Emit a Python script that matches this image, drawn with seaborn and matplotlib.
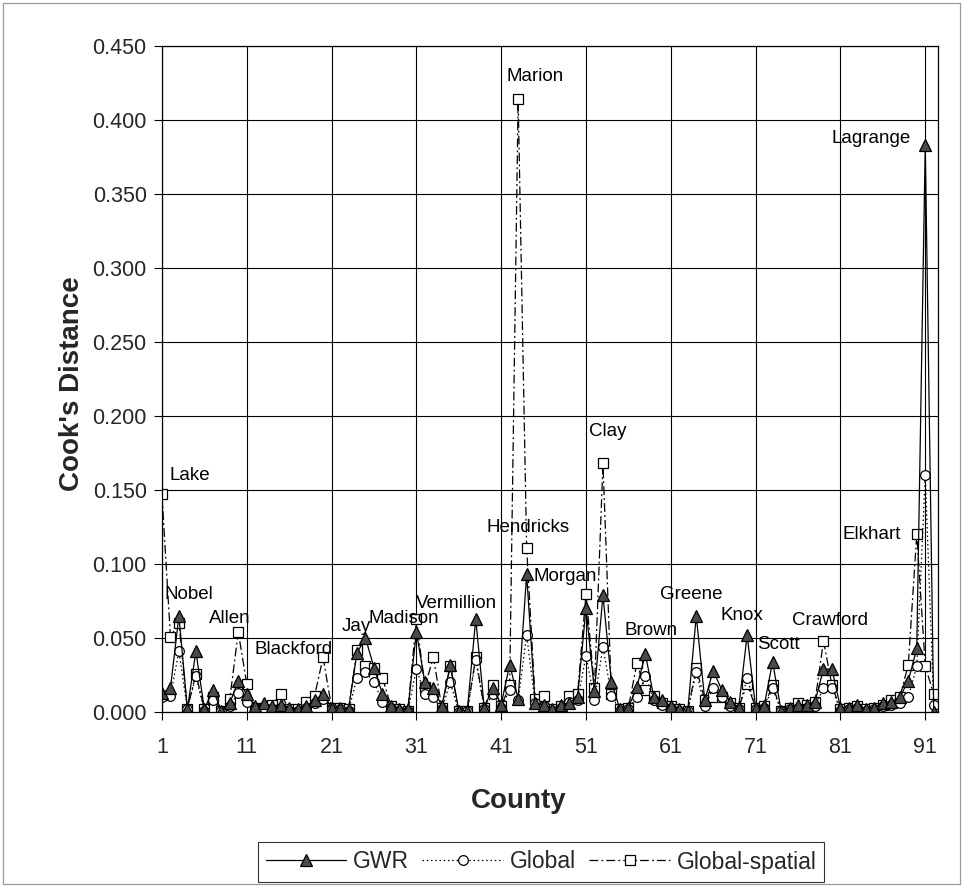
import numpy as np
import pandas as pd
import matplotlib
matplotlib.use("Agg")
import matplotlib.pyplot as plt
import seaborn as sns

# ---------------- data ----------------
county = list(range(1, 93))
gwr = [0.013, 0.016, 0.065, 0.002, 0.041, 0.002, 0.015, 0.001, 0.006, 0.021,
       0.012, 0.004, 0.006, 0.004, 0.005, 0.003, 0.002, 0.004, 0.008, 0.012,
       0.003, 0.003, 0.002, 0.040, 0.050, 0.030, 0.012, 0.004, 0.002, 0.002,
       0.054, 0.020, 0.016, 0.004, 0.032, 0.001, 0.001, 0.063, 0.003, 0.016,
       0.005, 0.032, 0.009, 0.093, 0.006, 0.005, 0.002, 0.005, 0.006, 0.010,
       0.070, 0.014, 0.079, 0.020, 0.002, 0.003, 0.017, 0.039, 0.010, 0.008,
       0.004, 0.002, 0.001, 0.065, 0.008, 0.028, 0.015, 0.007, 0.003, 0.052,
       0.003, 0.004, 0.034, 0.001, 0.003, 0.005, 0.005, 0.007, 0.029, 0.029,
       0.003, 0.003, 0.005, 0.002, 0.003, 0.006, 0.007, 0.010, 0.021, 0.043,
       0.383, 0.000]
global_ = [0.010, 0.011, 0.041, 0.002, 0.024, 0.001, 0.008, 0.001, 0.004, 0.013,
           0.007, 0.002, 0.003, 0.002, 0.003, 0.001, 0.001, 0.003, 0.006, 0.009,
           0.002, 0.002, 0.001, 0.023, 0.027, 0.020, 0.007, 0.003, 0.001, 0.001,
           0.029, 0.012, 0.010, 0.002, 0.020, 0.000, 0.001, 0.035, 0.002, 0.012,
           0.003, 0.015, 0.008, 0.052, 0.006, 0.004, 0.001, 0.003, 0.007, 0.008,
           0.038, 0.008, 0.044, 0.011, 0.001, 0.002, 0.010, 0.024, 0.008, 0.005,
           0.003, 0.001, 0.001, 0.027, 0.004, 0.016, 0.010, 0.004, 0.002, 0.023,
           0.002, 0.003, 0.016, 0.001, 0.002, 0.003, 0.003, 0.004, 0.016, 0.016,
           0.001, 0.002, 0.003, 0.001, 0.002, 0.004, 0.005, 0.006, 0.010, 0.031,
           0.160, 0.005]
global_spatial = [0.147, 0.051, 0.060, 0.002, 0.026, 0.002, 0.010, 0.001, 0.009, 0.054,
                  0.019, 0.003, 0.003, 0.005, 0.012, 0.002, 0.002, 0.007, 0.011, 0.037,
                  0.003, 0.003, 0.002, 0.042, 0.031, 0.030, 0.023, 0.004, 0.002, 0.001,
                  0.063, 0.017, 0.037, 0.003, 0.031, 0.001, 0.001, 0.037, 0.003, 0.018,
                  0.004, 0.018, 0.414, 0.111, 0.009, 0.011, 0.002, 0.004, 0.011, 0.012,
                  0.080, 0.016, 0.168, 0.012, 0.002, 0.003, 0.033, 0.015, 0.011, 0.006,
                  0.004, 0.002, 0.001, 0.030, 0.008, 0.010, 0.010, 0.006, 0.003, 0.019,
                  0.003, 0.004, 0.018, 0.001, 0.003, 0.006, 0.005, 0.007, 0.048, 0.018,
                  0.002, 0.003, 0.004, 0.002, 0.003, 0.005, 0.008, 0.010, 0.032, 0.120,
                  0.031, 0.012]

label_names = ["Lake", "Nobel", "Allen", "Blackford", "Jay", "Madison", "Vermillion",
               "Hendricks", "Morgan", "Marion", "Clay", "Brown", "Greene", "Knox",
               "Scott", "Crawford", "Elkhart", "Lagrange"]
label_x = [1.87, 1.28, 6.5, 11.9, 22.2, 25.4, 31.0, 39.3, 44.8, 41.6, 51.3, 55.5,
           59.7, 66.8, 71.2, 75.3, 81.3, 79.9]
label_y = [0.160, 0.0795, 0.063, 0.042, 0.058, 0.0635, 0.073, 0.1247, 0.0914, 0.4297,
           0.1895, 0.0553, 0.0793, 0.065, 0.0456, 0.0615, 0.1196, 0.3875]

x_ticks = [1, 11, 21, 31, 41, 51, 61, 71, 81, 91]
y_ticks = [0.000, 0.050, 0.100, 0.150, 0.200, 0.250, 0.300, 0.350, 0.400, 0.450]

df = pd.DataFrame({"County": county, "GWR": gwr, "Global": global_,
                   "Global-spatial": global_spatial})

# ---------------- style ----------------
sns.set_style("white")
plt.rcParams["font.family"] = ["Liberation Sans", "DejaVu Sans"]

fig = plt.figure(figsize=(9.64, 8.9), dpi=100)
ax = fig.add_axes([0.168, 0.2, 0.805, 0.7483])

common = dict(ax=ax, color="black", errorbar=None, markeredgecolor="black",
              markeredgewidth=0.9, linewidth=0.9)

sns.lineplot(data=df, x="County", y="Global-spatial", marker="s", markersize=7,
             markerfacecolor="white", linestyle=(0, (7, 2.5, 1.5, 2.5)),
             label="Global-spatial", **common)
sns.lineplot(data=df, x="County", y="Global", marker="o", markersize=7,
             markerfacecolor="white", linestyle=(0, (1.2, 2.2)),
             label="Global", **common)
sns.lineplot(data=df, x="County", y="GWR", marker="^", markersize=8.5,
             markerfacecolor="#4a4a4a", linestyle="-",
             label="GWR", **common)

for name, lx, ly in zip(label_names, label_x, label_y):
    ax.text(lx, ly, name, ha="left", va="center", fontsize=13.5, color="black")

ax.set_xlim(1, 92.5)
ax.set_ylim(0, 0.45)
ax.set_xticks(x_ticks)
ax.set_yticks(y_ticks)
ax.set_yticklabels([f"{v:.3f}" for v in y_ticks])
ax.grid(True, color="black", linewidth=0.8)
ax.set_axisbelow(True)
for s in ax.spines.values():
    s.set_color("black")
    s.set_linewidth(0.9)
ax.tick_params(axis="both", which="both", direction="out", length=6, width=0.8,
               color="black", labelsize=15.5, bottom=True, left=True)
ax.tick_params(axis="x", pad=12)
ax.tick_params(axis="y", pad=5)

ax.set_xlabel("County", fontsize=20, fontweight="bold")
ax.set_ylabel("Cook's Distance", fontsize=20, fontweight="bold")
ax.xaxis.set_label_coords(0.46, -0.114)
ax.yaxis.set_label_coords(-0.099, 0.4925)

handles, labels = ax.get_legend_handles_labels()
order = [labels.index("GWR"), labels.index("Global"), labels.index("Global-spatial")]
if ax.get_legend():
    ax.get_legend().remove()
leg = fig.legend([handles[i] for i in order], [labels[i] for i in order],
                 loc="center", bbox_to_anchor=(541 / 964, 1 - 862 / 890),
                 ncol=3, fontsize=16.5, frameon=True, fancybox=False,
                 edgecolor="black", handlelength=3.5, handletextpad=0.3,
                 columnspacing=0.6, borderpad=0.35)
leg.get_frame().set_linewidth(0.8)

# outer chart border
fig.patches.append(plt.Rectangle((3 / 964, 6 / 890), 957 / 964, 881 / 890,
                                 transform=fig.transFigure, fill=False,
                                 edgecolor="#9a9a9a", linewidth=0.9))

fig.savefig("out.png", dpi=100, facecolor="white")
